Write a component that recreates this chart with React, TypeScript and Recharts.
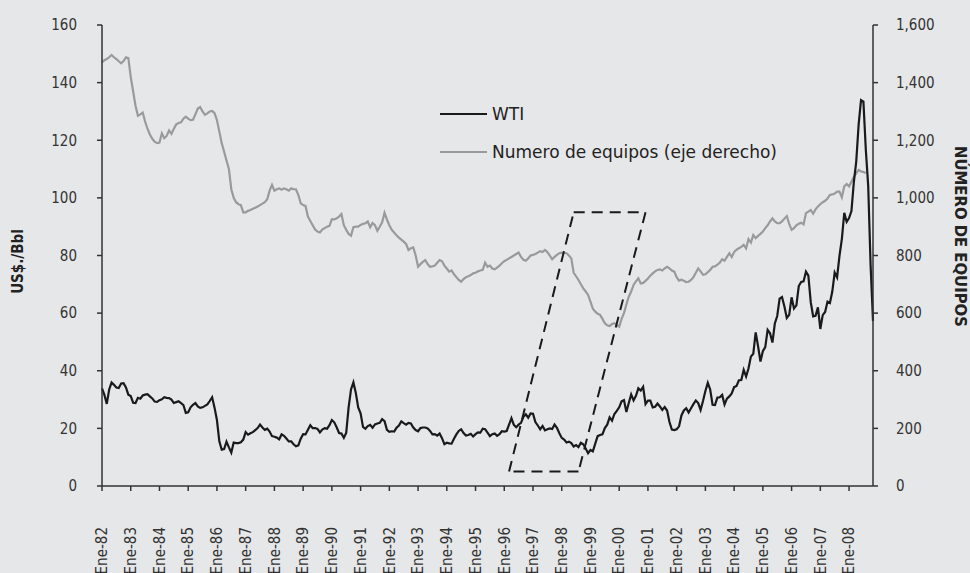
import React from "react";
import { LineChart, Line, XAxis, YAxis, ReferenceLine } from "recharts";

// months shown on the category axis (Jan 1982 .. Nov 2008)
const meses = ["Ene", "Feb", "Mar", "Abr", "May", "Jun", "Jul", "Ago", "Sep", "Oct", "Nov", "Dic"];
const anios = [
  "82", "83", "84", "85", "86", "87", "88", "89", "90", "91", "92", "93", "94",
  "95", "96", "97", "98", "99", "00", "01", "02", "03", "04", "05", "06", "07", "08",
];

// WTI, US$/Bbl (left axis)
const wti = [
  33.9, 31.6, 28.5, 33.5, 35.9, 35.1, 34.2, 34.0, 35.6, 35.7, 34.2, 31.7, // 82
  31.2, 28.9, 28.8, 30.6, 30.3, 31.4, 31.7, 31.9, 31.1, 30.4, 29.3, 29.2, // 83
  29.8, 30.1, 30.8, 30.6, 30.5, 30.0, 28.8, 29.1, 29.4, 28.8, 28.1, 25.4, // 84
  25.6, 27.3, 28.2, 28.8, 27.6, 27.1, 27.3, 27.8, 28.3, 29.5, 30.8, 27.2, // 85
  22.9, 15.5, 12.6, 12.8, 15.4, 13.4, 11.6, 15.1, 14.9, 14.9, 15.2, 16.1, // 86
  18.7, 17.8, 18.3, 18.7, 19.4, 20.1, 21.3, 20.3, 19.5, 19.9, 18.9, 17.3, // 87
  17.1, 16.8, 16.2, 17.9, 17.4, 16.5, 15.5, 15.5, 14.5, 13.8, 14.1, 16.4, // 88
  18.0, 17.9, 19.5, 21.1, 20.1, 20.1, 19.8, 18.6, 19.6, 20.1, 19.9, 21.1, // 89
  22.9, 22.1, 20.4, 18.4, 18.2, 16.7, 18.5, 27.3, 33.5, 36.0, 32.3, 27.3, // 90
  25.2, 20.5, 19.9, 20.8, 21.2, 20.2, 21.4, 21.7, 21.9, 23.2, 22.5, 19.5, // 91
  18.8, 19.0, 18.9, 20.2, 21.0, 22.4, 21.8, 21.3, 21.9, 21.7, 20.3, 19.4, // 92
  19.0, 20.1, 20.3, 20.3, 20.0, 19.1, 17.9, 18.0, 17.5, 18.2, 16.6, 14.5, // 93
  15.0, 14.8, 14.7, 16.4, 17.9, 19.1, 19.7, 18.4, 17.5, 17.7, 18.1, 17.2, // 94
  18.0, 18.6, 18.5, 19.9, 19.7, 18.5, 17.3, 18.0, 18.2, 17.4, 18.0, 19.0, // 95
  18.9, 19.1, 21.3, 23.5, 21.2, 20.4, 21.3, 21.9, 24.0, 24.9, 23.7, 25.2, // 96
  25.1, 22.2, 21.0, 19.7, 20.8, 19.3, 19.7, 20.0, 19.8, 21.3, 20.2, 18.3, // 97
  16.7, 16.1, 15.1, 15.4, 14.9, 13.7, 14.2, 13.5, 15.0, 14.5, 13.0, 11.4, // 98
  12.5, 12.0, 14.7, 17.3, 17.7, 17.9, 20.1, 21.3, 23.8, 22.7, 25.0, 26.1, // 99
  27.3, 29.4, 29.8, 25.7, 28.8, 31.8, 29.7, 31.3, 33.9, 33.1, 34.4, 28.4, // 00
  29.6, 29.6, 27.3, 27.5, 28.6, 27.6, 26.4, 27.4, 26.2, 22.2, 19.6, 19.4, // 01
  19.7, 20.7, 24.5, 26.2, 27.0, 25.5, 27.0, 28.4, 29.7, 28.8, 26.4, 29.5, // 02
  33.0, 35.8, 33.5, 28.2, 28.1, 30.7, 30.8, 31.6, 28.3, 30.3, 31.1, 32.1, // 03
  34.3, 34.7, 36.7, 36.8, 40.3, 38.0, 40.8, 44.9, 45.9, 53.3, 48.5, 43.2, // 04
  46.8, 48.2, 54.2, 53.0, 49.8, 56.4, 59.0, 65.0, 65.6, 62.3, 58.3, 59.4, // 05
  65.5, 61.6, 62.7, 69.4, 70.8, 71.0, 74.4, 73.0, 63.8, 58.9, 59.1, 62.0, // 06
  54.5, 59.3, 60.4, 64.0, 63.5, 67.5, 74.1, 72.4, 79.9, 85.8, 94.8, 91.7, // 07
  93.0, 95.4, 105.5, 112.6, 125.4, 133.9, 133.4, 116.7, 104.1, 76.6, 57.3, // 08
];

// Numero de equipos (right axis), ends Aug 2008
const equipos = [
  1470, 1478, 1482, 1488, 1496, 1488, 1482, 1474, 1467, 1475, 1488, 1485, // 82
  1420, 1370, 1320, 1285, 1290, 1296, 1265, 1240, 1220, 1205, 1195, 1190, // 83
  1192, 1224, 1207, 1215, 1234, 1222, 1240, 1255, 1260, 1262, 1275, 1282, // 84
  1275, 1270, 1271, 1290, 1310, 1315, 1300, 1288, 1293, 1300, 1302, 1294, // 85
  1270, 1230, 1190, 1160, 1130, 1100, 1030, 1000, 985, 978, 975, 950, // 86
  950, 955, 958, 962, 966, 970, 975, 980, 985, 995, 1025, 1045, // 87
  1025, 1030, 1033, 1028, 1033, 1030, 1025, 1033, 1030, 1030, 1010, 981, // 88
  975, 972, 935, 920, 905, 890, 883, 880, 890, 895, 900, 903, // 89
  926, 925, 929, 935, 944, 905, 889, 875, 869, 898, 900, 900, // 90
  906, 910, 912, 918, 898, 913, 905, 886, 900, 915, 948, 925, // 91
  905, 889, 880, 870, 862, 855, 848, 840, 819, 825, 828, 800, // 92
  761, 770, 778, 784, 770, 761, 762, 765, 775, 784, 780, 765, // 93
  755, 744, 748, 735, 725, 715, 709, 718, 725, 728, 732, 738, // 94
  740, 745, 748, 750, 775, 761, 765, 755, 752, 758, 765, 773, // 95
  780, 785, 790, 795, 800, 805, 810, 795, 785, 782, 790, 800, // 96
  802, 805, 810, 815, 812, 819, 812, 800, 787, 795, 802, 808, // 97
  810, 809, 808, 800, 790, 740, 728, 715, 700, 686, 675, 663, // 98
  640, 615, 605, 598, 594, 580, 565, 558, 555, 562, 565, 559, // 99
  553, 580, 600, 630, 657, 675, 698, 710, 721, 703, 705, 712, // 00
  720, 730, 738, 745, 750, 752, 748, 755, 761, 755, 748, 744, // 01
  725, 713, 716, 712, 708, 709, 715, 725, 740, 755, 745, 733, // 02
  735, 742, 750, 761, 762, 768, 775, 787, 782, 795, 808, 795, // 03
  812, 820, 825, 830, 837, 825, 857, 845, 871, 860, 868, 875, // 04
  883, 895, 905, 918, 929, 918, 912, 912, 918, 928, 937, 910, // 05
  889, 895, 905, 910, 914, 908, 947, 952, 958, 945, 960, 970, // 06
  978, 985, 990, 998, 1010, 1012, 1015, 1022, 1022, 1002, 1040, 1048, // 07
  1040, 1056, 1073, 1085, 1097, 1092, 1090, 1086, // 08
];

const ticksIzq = [0, 20, 40, 60, 80, 100, 120, 140, 160];
const ticksDer = [0, 200, 400, 600, 800, 1000, 1200, 1400, 1600];

// dashed box drawn over the chart (month, US$/Bbl)
const recuadro = [
  { x: "Mar-96", y: 5 },
  { x: "Jun-98", y: 95 },
  { x: "Dic-00", y: 95 },
  { x: "Ago-98", y: 5 },
];

const series = [
  { key: "wti", name: "WTI", color: "#1a1a1a" },
  { key: "equipos", name: "Numero de equipos (eje derecho)", color: "#9a9a9a" },
];

const categorias: string[] = [];
anios.forEach((a) => meses.forEach((m) => categorias.push(`${m}-${a}`)));
categorias.length = wti.length;

const data = categorias.map((mes, i) => ({
  mes,
  wti: wti[i],
  equipos: equipos[i] ?? null,
}));

const ticksMes = categorias.filter((c) => c.startsWith("Ene"));

const FONT = "'DejaVu Sans Condensed', 'DejaVu Sans', sans-serif";

const TickMes = (props: any) => {
  const { x, y, payload } = props;
  const ty = y + 34;
  return (
    <text
      x={x}
      y={ty}
      transform={`rotate(-90 ${x} ${ty})`}
      textAnchor="end"
      dy="0.35em"
      fontSize={15}
      fontFamily={FONT}
      fill="#333"
    >
      {payload.value}
    </text>
  );
};

export default function App() {
  return (
    <div
      style={{
        position: "absolute",
        left: 0,
        top: 0,
        width: 970,
        height: 573,
        background: "#e6e7e9",
        overflow: "hidden",
      }}
    >
      <LineChart
        width={970}
        height={573}
        data={data}
        margin={{ top: 25, right: 0, bottom: 0, left: 0 }}
      >
        <XAxis
          dataKey="mes"
          ticks={ticksMes}
          interval={0}
          tickSize={5}
          height={87}
          tick={<TickMes />}
          axisLine={{ stroke: "#333", strokeWidth: 1.5 }}
          tickLine={{ stroke: "#333", strokeWidth: 1.5 }}
        />
        <YAxis
          yAxisId="left"
          domain={[0, 160]}
          ticks={ticksIzq}
          width={102}
          tickSize={5}
          tickMargin={20}
          tick={{ fontSize: 15, fontFamily: FONT, fill: "#333" }}
          axisLine={{ stroke: "#333", strokeWidth: 1.5 }}
          tickLine={{ stroke: "#333", strokeWidth: 1.5 }}
          label={{
            content: (p: any) => {
              const vb = p.viewBox;
              const cx = vb.x + 18;
              const cy = vb.y + vb.height / 2 + 6;
              return (
                <text
                  x={cx}
                  y={cy}
                  transform={`rotate(-90 ${cx} ${cy})`}
                  textAnchor="middle"
                  dy="0.35em"
                  fontSize={15}
                  fontWeight="bold"
                  fontFamily={FONT}
                  fill="#222"
                >
                  US$./Bbl
                </text>
              );
            },
          }}
        />
        <YAxis
          yAxisId="right"
          orientation="right"
          domain={[0, 1600]}
          ticks={ticksDer}
          width={97}
          tickSize={5}
          tickMargin={18}
          tickFormatter={(v: number) => v.toLocaleString("en-US")}
          tick={{ fontSize: 15, fontFamily: FONT, fill: "#333" }}
          axisLine={{ stroke: "#333", strokeWidth: 1.5 }}
          tickLine={{ stroke: "#333", strokeWidth: 1.5 }}
          label={{
            content: (p: any) => {
              const vb = p.viewBox;
              const cx = vb.x + 88;
              const cy = vb.y + vb.height / 2 - 19;
              return (
                <text
                  x={cx}
                  y={cy}
                  transform={`rotate(90 ${cx} ${cy})`}
                  textAnchor="middle"
                  dy="0.35em"
                  fontSize={16.5}
                  fontWeight="bold"
                  fontFamily={FONT}
                  fill="#222"
                >
                  NÚMERO DE EQUIPOS
                </text>
              );
            },
          }}
        />
        <Line
          yAxisId="right"
          dataKey="equipos"
          name={series[1].name}
          stroke={series[1].color}
          strokeWidth={2.2}
          dot={false}
          activeDot={false}
          isAnimationActive={false}
        />
        <Line
          yAxisId="left"
          dataKey="wti"
          name={series[0].name}
          stroke={series[0].color}
          strokeWidth={2.2}
          dot={false}
          activeDot={false}
          isAnimationActive={false}
        />
        {recuadro.map((p, i) => (
          <ReferenceLine
            key={i}
            yAxisId="left"
            segment={[p, recuadro[(i + 1) % recuadro.length]]}
            stroke="#1a1a1a"
            strokeWidth={2}
            strokeDasharray="11 7"
            ifOverflow="visible"
          />
        ))}
      </LineChart>
      {/* legend */}
      <div
        style={{
          position: "absolute",
          left: 440,
          top: 95,
          fontFamily: "'DejaVu Sans', sans-serif",
          fontSize: 17,
          color: "#222",
        }}
      >
        {series.map((s) => (
          <div key={s.key} style={{ display: "flex", alignItems: "center", height: 38 }}>
            <div style={{ width: 47, height: 2.5, background: s.color, marginRight: 5 }} />
            <span>{s.name}</span>
          </div>
        ))}
      </div>
    </div>
  );
}
